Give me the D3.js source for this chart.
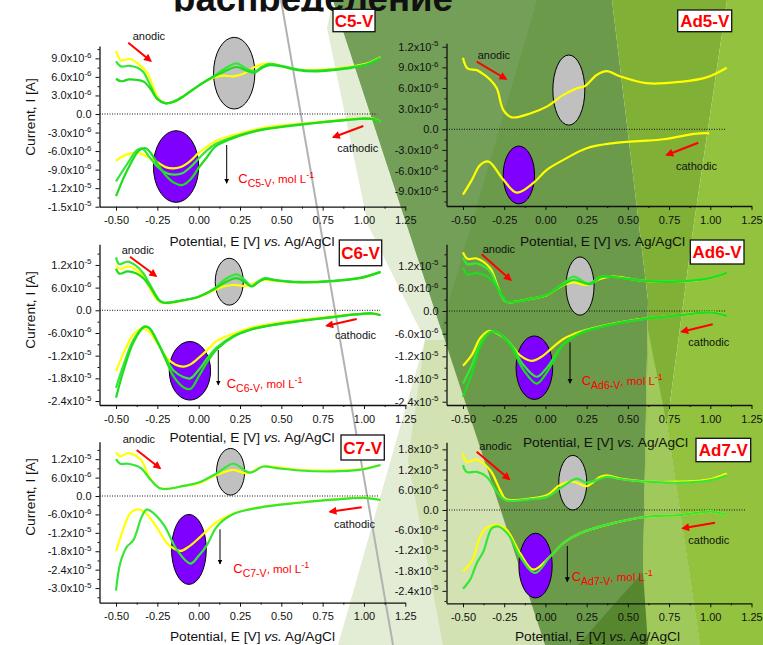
<!DOCTYPE html>
<html>
<head>
<meta charset="utf-8">
<script src="https://cdn.jsdelivr.net/npm/d3@7"></script>
<style>
  body { margin: 0; background: #fff; }
  svg { display: block; }
  text { font-family: "Liberation Sans", Arial, sans-serif; }
</style>
</head>
<body>
<svg id="chart" width="763" height="645"></svg>
<script>
// ---------- Data (potential in V vs. Ag/AgCl, current in µA) ----------
const potentialTicks = [-0.5, -0.25, 0, 0.25, 0.5, 0.75, 1.0, 1.25];

const currentTicksC5 = [9, 6, 3, 0, -3, -6, -9, -12, -15];
const currentTicksAd5 = [12, 9, 6, 3, 0, -3, -6, -9];
const currentTicksC6 = [12, 6, 0, -6, -12, -18, -24];
const currentTicksAd6 = [12, 6, 0, -6, -12, -18, -24];
const currentTicksC7 = [12, 6, 0, -6, -12, -18, -24, -30];
const currentTicksAd7 = [18, 12, 6, 0, -6, -12, -18, -24];

// C5-V
const c5YellowAnodic = [[-0.5,10.2],[-0.47,8.7],[-0.415,8.9],[-0.36,8.0],[-0.31,6.6],[-0.27,4.0],[-0.24,2.4],[-0.2,1.75],[-0.15,2.0],[-0.09,2.9],[0.0,4.6],[0.08,5.8],[0.15,6.2],[0.21,6.1],[0.27,6.5],[0.33,7.5],[0.39,8.1],[0.45,8.1],[0.52,7.6],[0.6,7.2],[0.7,7.1],[0.81,7.3],[0.93,7.7],[1.02,8.2],[1.1,9.2]];
const c5YellowCathodic = [[1.1,-1.25],[1.05,-0.7],[1.0,-0.65],[0.9,-0.85],[0.8,-1.1],[0.6,-1.6],[0.4,-2.2],[0.3,-2.8],[0.2,-3.5],[0.1,-4.4],[0.05,-5.3],[0.0,-6.3],[-0.05,-7.6],[-0.1,-8.5],[-0.15,-8.8],[-0.2,-8.6],[-0.25,-7.8],[-0.31,-6.9],[-0.37,-6.3],[-0.43,-6.5],[-0.47,-7.0],[-0.5,-7.6]];
const c5GreenAAnodic = [[-0.5,8.5],[-0.47,7.7],[-0.42,7.8],[-0.37,7.5],[-0.335,6.8],[-0.29,4.5],[-0.25,2.5],[-0.2,1.75],[-0.15,2.0],[-0.09,2.9],[0.0,4.6],[0.08,5.9],[0.15,7.2],[0.23,8.2],[0.29,7.3],[0.34,6.9],[0.38,7.6],[0.43,8.1],[0.5,7.8],[0.6,7.2],[0.7,7.0],[0.81,7.2],[0.93,7.6],[1.02,8.1],[1.1,9.1]];
const c5GreenACathodic = [[1.1,-1.3],[1.05,-0.8],[1.0,-0.75],[0.9,-0.95],[0.8,-1.2],[0.6,-1.7],[0.4,-2.4],[0.3,-3.0],[0.2,-3.8],[0.1,-4.9],[0.05,-5.9],[0.0,-7.2],[-0.05,-8.6],[-0.1,-9.6],[-0.15,-9.8],[-0.2,-9.5],[-0.25,-8.5],[-0.3,-6.9],[-0.34,-5.6],[-0.375,-5.9],[-0.43,-8.0],[-0.5,-10.9]];
const c5GreenBAnodic = [[-0.5,5.7],[-0.47,5.3],[-0.42,5.6],[-0.37,5.5],[-0.33,5.2],[-0.29,4.0],[-0.25,2.4],[-0.2,1.7],[-0.15,2.0],[-0.09,2.9],[0.0,4.6],[0.08,5.9],[0.15,6.8],[0.23,7.6],[0.29,7.0],[0.34,6.7],[0.38,7.4],[0.43,7.9],[0.5,7.7],[0.6,7.1],[0.7,6.9],[0.81,7.1],[0.93,7.5],[1.02,8.0],[1.1,9.0]];
const c5GreenBCathodic = [[1.1,-1.3],[1.05,-0.8],[1.0,-0.75],[0.9,-0.95],[0.8,-1.2],[0.6,-1.8],[0.4,-2.5],[0.3,-3.1],[0.2,-4.0],[0.1,-5.3],[0.05,-7.0],[0.0,-8.7],[-0.05,-10.6],[-0.1,-11.5],[-0.15,-11.1],[-0.2,-9.9],[-0.25,-8.0],[-0.29,-6.3],[-0.32,-5.55],[-0.36,-5.9],[-0.43,-9.0],[-0.5,-13.3]];

// Ad5-V
const ad5YellowAnodic = [[-0.5,10.4],[-0.473,8.85],[-0.416,8.6],[-0.37,7.9],[-0.335,7.2],[-0.295,5.95],[-0.255,2.8],[-0.204,1.74],[-0.093,2.3],[0.008,3.3],[0.109,5.0],[0.19,5.95],[0.24,6.3],[0.311,7.9],[0.372,8.45],[0.453,7.7],[0.614,6.7],[0.816,6.9],[0.978,7.55],[1.1,8.95]];
const ad5YellowCathodic = [[0.994,-0.58],[0.917,-0.62],[0.715,-1.45],[0.412,-2.0],[0.25,-2.75],[0.109,-4.45],[0.008,-5.9],[-0.073,-7.8],[-0.174,-9.2],[-0.255,-7.35],[-0.345,-4.7],[-0.396,-5.2],[-0.446,-7.35],[-0.5,-9.5]];

// C6-V
const c6YellowAnodic = [[-0.5,11.8],[-0.475,11.0],[-0.425,11.6],[-0.38,10.8],[-0.335,8.9],[-0.3,6.3],[-0.274,4.1],[-0.234,2.2],[-0.19,1.9],[-0.09,2.6],[0.0,3.5],[0.09,5.2],[0.15,6.3],[0.21,6.7],[0.26,6.5],[0.29,6.4],[0.34,7.3],[0.39,8.0],[0.47,7.8],[0.61,7.4],[0.81,7.7],[0.975,8.5],[1.1,10.1]];
const c6YellowCathodic = [[1.1,-1.2],[1.05,-0.8],[0.95,-1.0],[0.81,-1.6],[0.61,-2.5],[0.41,-3.8],[0.31,-4.7],[0.21,-6.2],[0.11,-8.1],[0.05,-10.6],[0.0,-12.6],[-0.05,-14.3],[-0.09,-14.9],[-0.14,-14.4],[-0.19,-12.7],[-0.25,-8.7],[-0.31,-5.3],[-0.35,-4.9],[-0.395,-6.4],[-0.455,-11.4],[-0.5,-16.1]];
const c6GreenAAnodic = [[-0.5,14.0],[-0.48,12.2],[-0.43,12.9],[-0.38,11.8],[-0.335,9.8],[-0.3,7.2],[-0.27,4.9],[-0.24,2.8],[-0.21,2.0],[-0.09,2.7],[0.0,3.6],[0.09,5.6],[0.16,8.2],[0.23,9.5],[0.28,8.0],[0.32,6.4],[0.36,7.6],[0.4,8.5],[0.47,8.0],[0.61,7.5],[0.81,7.8],[0.975,8.6],[1.1,10.2]];
const c6GreenACathodic = [[1.1,-1.3],[1.05,-0.85],[0.95,-1.1],[0.81,-1.8],[0.61,-2.8],[0.41,-4.1],[0.31,-5.1],[0.21,-6.8],[0.11,-9.8],[0.05,-12.8],[0.0,-15.8],[-0.05,-18.0],[-0.09,-17.7],[-0.15,-16.0],[-0.2,-12.5],[-0.25,-8.2],[-0.3,-4.6],[-0.33,-4.3],[-0.395,-7.9],[-0.455,-14.5],[-0.5,-20.5]];
const c6GreenBAnodic = [[-0.5,11.0],[-0.48,9.7],[-0.43,10.3],[-0.38,9.8],[-0.335,8.5],[-0.3,6.6],[-0.27,4.5],[-0.24,2.6],[-0.21,2.0],[-0.09,2.7],[0.0,3.6],[0.09,5.5],[0.16,7.4],[0.23,8.5],[0.28,7.4],[0.32,6.3],[0.36,7.4],[0.4,8.3],[0.47,7.9],[0.61,7.4],[0.81,7.7],[0.975,8.5],[1.1,10.1]];
const c6GreenBCathodic = [[1.1,-1.3],[1.05,-0.85],[0.95,-1.1],[0.81,-1.8],[0.61,-2.9],[0.41,-4.2],[0.31,-5.2],[0.21,-7.0],[0.11,-10.3],[0.05,-13.8],[0.0,-17.5],[-0.05,-20.8],[-0.09,-20.4],[-0.15,-17.6],[-0.2,-13.0],[-0.25,-8.4],[-0.3,-4.7],[-0.33,-4.4],[-0.395,-8.5],[-0.455,-16.0],[-0.5,-23.1]];

// Ad6-V
const ad6YellowAnodic = [[-0.5,15.5],[-0.473,13.8],[-0.416,13.9],[-0.335,11.3],[-0.285,6.0],[-0.245,2.65],[-0.214,2.3],[-0.093,3.2],[0.008,4.2],[0.109,6.9],[0.17,7.6],[0.25,6.9],[0.33,8.5],[0.41,9.1],[0.614,7.9],[0.816,7.8],[0.99,8.65],[1.1,10.2]];
const ad6YellowCathodic = [[1.1,-1.24],[1.0,-0.35],[0.816,-1.06],[0.614,-1.94],[0.412,-3.3],[0.21,-5.5],[0.109,-7.4],[0.04,-9.8],[-0.02,-12.0],[-0.083,-13.2],[-0.15,-11.9],[-0.234,-7.7],[-0.315,-5.5],[-0.345,-5.3],[-0.396,-7.2],[-0.446,-11.6],[-0.5,-14.5]];
const ad6GreenAAnodic = [[-0.5,14.2],[-0.473,12.4],[-0.416,12.6],[-0.335,10.4],[-0.285,5.6],[-0.245,2.6],[-0.214,2.3],[-0.093,3.2],[0.008,4.3],[0.109,7.3],[0.17,9.1],[0.26,7.3],[0.34,9.1],[0.41,9.0],[0.614,8.0],[0.816,7.9],[0.99,8.7],[1.1,10.2]];
const ad6GreenACathodic = [[1.1,-1.3],[1.0,-0.4],[0.816,-1.1],[0.614,-2.0],[0.412,-3.4],[0.21,-5.8],[0.109,-8.8],[0.05,-12.5],[0.0,-15.5],[-0.053,-17.4],[-0.133,-14.3],[-0.214,-8.6],[-0.295,-5.65],[-0.335,-5.5],[-0.396,-8.6],[-0.446,-14.3],[-0.5,-19.2]];
const ad6GreenBAnodic = [[-0.5,11.5],[-0.473,9.7],[-0.416,10.0],[-0.335,8.6],[-0.275,5.1],[-0.235,2.6],[-0.2,2.3],[-0.093,3.2],[0.008,4.3],[0.109,7.0],[0.17,8.2],[0.27,7.1],[0.34,9.0],[0.41,9.0],[0.614,7.9],[0.816,7.8],[0.99,8.6],[1.1,10.1]];
const ad6GreenBCathodic = [[1.1,-1.3],[1.0,-0.4],[0.816,-1.1],[0.614,-2.0],[0.412,-3.5],[0.21,-6.0],[0.109,-9.0],[0.05,-13.2],[0.0,-16.8],[-0.053,-19.2],[-0.133,-15.6],[-0.214,-9.0],[-0.295,-5.7],[-0.335,-5.6],[-0.396,-9.5],[-0.446,-16.5],[-0.5,-22.7]];

// C7-V
const c7YellowAnodic = [[-0.5,14.2],[-0.475,12.9],[-0.425,14.0],[-0.35,11.8],[-0.3,6.3],[-0.25,3.05],[-0.21,2.3],[-0.09,3.3],[0.0,4.1],[0.11,6.9],[0.21,8.5],[0.29,7.4],[0.39,9.6],[0.47,9.4],[0.61,8.5],[0.81,8.3],[0.97,8.7],[1.1,10.1]];
const c7YellowCathodic = [[1.1,-1.3],[1.0,-0.55],[0.81,-1.1],[0.61,-2.1],[0.41,-3.3],[0.21,-5.7],[0.11,-8.4],[0.0,-13.8],[-0.06,-16.5],[-0.11,-17.9],[-0.16,-16.8],[-0.19,-15.5],[-0.27,-8.9],[-0.33,-5.1],[-0.375,-4.4],[-0.415,-5.7],[-0.455,-10.6],[-0.5,-18.0]];
const c7GreenAnodic = [[-0.5,12.0],[-0.475,10.5],[-0.43,10.5],[-0.35,9.1],[-0.29,5.2],[-0.235,2.5],[-0.19,2.3],[-0.09,3.3],[0.0,4.4],[0.11,7.4],[0.21,10.5],[0.31,7.6],[0.39,9.6],[0.47,9.1],[0.61,8.3],[0.81,8.0],[0.97,8.5],[1.1,10.1]];
const c7GreenCathodic = [[1.1,-1.3],[1.0,-0.6],[0.81,-1.2],[0.61,-2.2],[0.41,-3.4],[0.21,-5.9],[0.11,-10.0],[0.05,-16.0],[0.0,-19.5],[-0.05,-22.0],[-0.13,-17.7],[-0.21,-9.5],[-0.285,-5.1],[-0.315,-4.4],[-0.345,-6.8],[-0.395,-14.4],[-0.435,-16.6],[-0.475,-22.0],[-0.5,-30.8]];

// Ad7-V
const ad7YellowAnodic = [[-0.5,16.9],[-0.478,14.3],[-0.416,14.9],[-0.335,11.8],[-0.275,5.9],[-0.245,3.4],[-0.214,2.95],[-0.093,3.4],[0.008,4.4],[0.089,7.4],[0.17,8.4],[0.25,7.1],[0.33,9.8],[0.372,10.3],[0.453,9.3],[0.614,8.4],[0.816,8.4],[0.99,9.0],[1.1,10.8]];
const ad7YellowCathodic = [[1.1,-1.5],[1.0,-0.5],[0.816,-1.5],[0.614,-2.0],[0.412,-3.9],[0.21,-6.9],[0.109,-9.8],[0.028,-13.8],[-0.073,-17.7],[-0.154,-12.8],[-0.235,-5.9],[-0.3,-4.4],[-0.36,-5.4],[-0.396,-7.9],[-0.446,-15.2],[-0.5,-18.2]];
const ad7GreenAnodic = [[-0.5,13.3],[-0.478,11.3],[-0.416,11.3],[-0.355,9.8],[-0.295,5.4],[-0.245,2.95],[-0.2,2.7],[-0.093,3.2],[0.008,3.9],[0.089,6.4],[0.19,9.3],[0.25,8.1],[0.372,9.8],[0.453,9.2],[0.614,8.4],[0.816,8.1],[0.99,8.7],[1.1,10.3]];
const ad7GreenCathodic = [[1.1,-1.5],[1.0,-0.5],[0.816,-1.5],[0.614,-2.0],[0.412,-3.9],[0.21,-6.9],[0.109,-9.8],[0.028,-13.8],[-0.063,-18.7],[-0.154,-13.8],[-0.224,-7.4],[-0.285,-4.9],[-0.325,-5.4],[-0.376,-12.3],[-0.416,-15.7],[-0.456,-20.6],[-0.5,-23.4]];

// ---------- Styles ----------
const YELLOW = "#ffff00", GREEN_A = "#36e636", GREEN_B = "#1fdc1f";
const RED = "#ff0000";

// ---------- Panel layout ----------
const panels = [
  { tag: "C5-V", xr: [99.5, 405.3], yr: [206.7, 46], yd: [-15, 11], ticks: currentTicksC5, zeroEnd: 1.08,
    series: [[c5YellowAnodic, c5YellowCathodic, YELLOW], [c5GreenAAnodic, c5GreenACathodic, GREEN_A], [c5GreenBAnodic, c5GreenBCathodic, GREEN_B]],
    grayOval: [0.215, 6.6, 0.125, 5.8], violetOval: [-0.137, -8.5, 0.137, 5.8],
    box: [333, 9.3, 42, 22.4], anodic: [132.7, 40, 128.3, 42.7, 150.7, 61], cathodic: [337.3, 152, 363.3, 126, 333.3, 137.3],
    down: [226.7, 145, 183.3], conc: [238.3, 183], xTitle: [252, 245.5], yTitle: 117 },
  { tag: "Ad5-V", xr: [446.5, 751.5], yr: [206, 43.3], yd: [-11.15, 12.5], ticks: currentTicksAd5, zeroEnd: 1.09,
    series: [[ad5YellowAnodic, ad5YellowCathodic, YELLOW]],
    grayOval: [0.142, 5.7, 0.097, 5.1], violetOval: [-0.161, -6.64, 0.095, 4.2],
    box: [677.7, 10, 54, 21.7], anodic: [477.7, 59, 476.7, 61.7, 506, 79], cathodic: [676, 169.7, 698.3, 142.7, 666.7, 155],
    down: null, conc: null, xTitle: [602.5, 245.5], yTitle: null },
  { tag: "C6-V", xr: [99.5, 405.3], yr: [405, 244.3], yd: [-25.05, 17.46], ticks: currentTicksC6, zeroEnd: 1.097,
    series: [[c6YellowAnodic, c6YellowCathodic, YELLOW], [c6GreenAAnodic, c6GreenACathodic, GREEN_A], [c6GreenBAnodic, c6GreenBCathodic, GREEN_B]],
    grayOval: [0.185, 7.57, 0.085, 6.2], violetOval: [-0.053, -16.0, 0.125, 7.75],
    box: [339.3, 240, 42.4, 25.7], anodic: [121.7, 254, 130, 256.7, 156, 276], cathodic: [335, 339, 356.7, 319, 326.7, 325.7],
    down: [218.3, 350, 385], conc: [226.7, 388], xTitle: [252, 441.7], yTitle: 310 },
  { tag: "Ad6-V", xr: [446.5, 751.5], yr: [405, 244.3], yd: [-24.87, 17.65], ticks: currentTicksAd6, zeroEnd: 1.09,
    series: [[ad6YellowAnodic, ad6YellowCathodic, YELLOW], [ad6GreenAAnodic, ad6GreenACathodic, GREEN_A], [ad6GreenBAnodic, ad6GreenBCathodic, GREEN_B]],
    grayOval: [0.21, 6.6, 0.085, 7.7], violetOval: [-0.067, -15.0, 0.111, 8.4],
    box: [690.3, 240, 53.7, 24], anodic: [482.7, 253, 481.7, 254.3, 510.7, 280], cathodic: [688.3, 346.3, 712.7, 324.3, 681.7, 331.7],
    down: [570, 342.3, 383.3], conc: [581.7, 385], xTitle: [605.5, 446.7], yTitle: null },
  { tag: "C7-V", xr: [99.5, 405.3], yr: [602.7, 441.7], yd: [-34.76, 17.69], ticks: currentTicksC7, zeroEnd: 1.087,
    series: [[c7YellowAnodic, c7YellowCathodic, YELLOW], [c7GreenAnodic, c7GreenCathodic, GREEN_A]],
    grayOval: [0.193, 7.9, 0.085, 7.6], violetOval: [-0.059, -17.4, 0.105, 11.4],
    box: [341, 435, 43.3, 25], anodic: [122.7, 443.3, 136.7, 450, 160, 468.3], cathodic: [334, 528.3, 361.7, 507.3, 330, 511.7],
    down: [220, 529.3, 564], conc: [233.3, 573], xTitle: [252.5, 641], yTitle: 497 },
  { tag: "Ad7-V", xr: [446.5, 751.5], yr: [603.3, 442.3], yd: [-27.69, 20.09], ticks: currentTicksAd7, zeroEnd: 1.22,
    series: [[ad7YellowAnodic, ad7YellowCathodic, YELLOW], [ad7GreenAnodic, ad7GreenCathodic, GREEN_A]],
    grayOval: [0.166, 8.1, 0.085, 8.1], violetOval: [-0.06, -16.5, 0.101, 9.6],
    box: [696, 438.3, 54.7, 23.4], anodic: [479.3, 450, 476.7, 451.7, 509.3, 479.3], cathodic: [688.3, 544, 715, 522.7, 682.7, 528.3],
    down: [567.3, 546, 581.7], conc: [571.7, 581], xTitle: [597.5, 641], yTitle: null }
];

// ---------- Slide backdrop ----------
const backdrop = [
  { fill: "#e3ecd5", pts: [[333,0],[327,28],[368,225],[425,340],[338,645],[545,645]] },
  { fill: "#d2e2b2", pts: [[425,340],[445,340],[545,645],[443,645],[408,460]] },
  { fill: "#6b9a4b", pts: [[333,0],[612,0],[648,300],[643,575],[622,645],[545,645]] },
  { fill: "#739f58", pts: [[333,0],[537,0],[441,329]] },
  { fill: "#80b035", pts: [[612,0],[727,0],[693,230],[667,425],[700,645],[622,645],[643,575],[648,300]] },
  { fill: "#93c33e", pts: [[727,0],[763,0],[763,645],[700,645],[667,425],[693,230]] },
  { fill: "#a0c95c", pts: [[648,330],[667,425],[700,645],[643,645],[643,575]] },
  { fill: "#56872f", pts: [[578,645],[643,572],[648,645]] }
];

const svg = d3.select("#chart");
const defs = svg.append("defs");
defs.append("marker").attr("id", "headRed").attr("viewBox", "0 0 10 10")
  .attr("refX", 8).attr("refY", 5).attr("markerWidth", 4.5).attr("markerHeight", 4)
  .attr("orient", "auto").append("path").attr("d", "M0,0L10,5L0,10z").attr("fill", RED);
defs.append("marker").attr("id", "headBlack").attr("viewBox", "0 0 10 10")
  .attr("refX", 9).attr("refY", 5).attr("markerWidth", 5).attr("markerHeight", 6)
  .attr("orient", "auto").append("path").attr("d", "M0,0L10,5L0,10z").attr("fill", "#000");
// the slide heading sits behind the figure block, only its lower strip shows
defs.append("clipPath").attr("id", "headingStrip")
  .append("rect").attr("x", 0).attr("y", 0).attr("width", 763).attr("height", 11.5);

svg.append("g").selectAll("polygon").data(backdrop).join("polygon")
  .attr("points", d => d.pts.map(p => p.join(",")).join(" "))
  .attr("fill", d => d.fill);

svg.append("line").attr("x1", 281).attr("y1", 0).attr("x2", 393).attr("y2", 645)
  .attr("stroke", "#b2b2b2").attr("stroke-width", 2);

svg.append("text").attr("x", 173).attr("y", 11)
  .attr("clip-path", "url(#headingStrip)")
  .attr("textLength", 280).attr("lengthAdjust", "spacingAndGlyphs")
  .style("font-size", "37px").style("font-weight", "bold").attr("fill", "#111")
  .text("распределение");

// ---------- Helpers ----------
function sciLabel(v) {
  if (v === 0) return ["0.0", null];
  const a = v * 1e-6;
  const e = Math.floor(Math.log10(Math.abs(a)) + 1e-9);
  const m = a / Math.pow(10, e);
  return [m.toFixed(1) + "x10", String(e)];
}

function drawPanel(p) {
  const x = d3.scaleLinear().domain([-0.6, 1.25]).range(p.xr);
  const y = d3.scaleLinear().domain(p.yd).range(p.yr);
  const g = svg.append("g");

  // zero-current reference
  g.append("line").attr("x1", p.xr[0]).attr("x2", x(p.zeroEnd))
    .attr("y1", y(0)).attr("y2", y(0))
    .attr("stroke", "#111").attr("stroke-width", 1).attr("stroke-dasharray", "1,1.5");

  // peak regions
  const oval = (o, fill) => g.append("ellipse")
    .attr("cx", x(o[0])).attr("cy", y(o[1]))
    .attr("rx", x(o[0] + o[2]) - x(o[0])).attr("ry", y(o[1] - o[3]) - y(o[1]))
    .attr("fill", fill).attr("stroke", "#000").attr("stroke-width", 1);
  oval(p.grayOval, "#c0c0c0");
  oval(p.violetOval, "#7f00ff");

  // voltammograms
  const line = d3.line().x(d => x(d[0])).y(d => y(d[1])).curve(d3.curveCatmullRom.alpha(0.5));
  p.series.forEach(([an, cat, col]) => {
    [an, cat].forEach(arr => g.append("path").attr("d", line(arr))
      .attr("fill", "none").attr("stroke", col).attr("stroke-width", 2.2)
      .attr("stroke-linejoin", "round"));
  });

  // x axis
  const xMinor = d3.range(-0.375, 1.2, 0.25);
  g.append("g").attr("transform", `translate(0,${p.yr[0]})`)
    .call(d3.axisBottom(x).tickValues(xMinor).tickSize(2).tickSizeOuter(0).tickFormat(""))
    .call(a => a.select(".domain").remove())
    .selectAll("line").attr("stroke", "#111");
  g.append("g").attr("transform", `translate(0,${p.yr[0]})`)
    .call(d3.axisBottom(x).tickValues(potentialTicks).tickSize(4).tickSizeOuter(0).tickPadding(6)
      .tickFormat(d => d.toFixed(2)))
    .call(a => {
      a.attr("font-family", null).attr("font-size", null);
      a.select(".domain").attr("stroke", "#111").attr("stroke-width", 1.3);
      a.selectAll("line").attr("stroke", "#111");
      a.selectAll("text").style("font-size", "11px").attr("fill", "#111");
    });

  // y axis
  const step = p.ticks[0] - p.ticks[1];
  const yMinor = [];
  for (let v = p.ticks[p.ticks.length - 1] - step / 2; v <= p.yd[1]; v += step) {
    if (v >= p.yd[0]) yMinor.push(v);
  }
  g.append("g").attr("transform", `translate(${p.xr[0]},0)`)
    .call(d3.axisLeft(y).tickValues(yMinor).tickSize(2).tickSizeOuter(0).tickFormat(""))
    .call(a => a.select(".domain").remove())
    .selectAll("line").attr("stroke", "#111");
  g.append("g").attr("transform", `translate(${p.xr[0]},0)`)
    .call(d3.axisLeft(y).tickValues(p.ticks).tickSize(4).tickSizeOuter(0).tickFormat(""))
    .call(a => {
      a.select(".domain").attr("stroke", "#111").attr("stroke-width", 1.3);
      a.selectAll("line").attr("stroke", "#111");
    });
  p.ticks.forEach(v => {
    const [main, exp] = sciLabel(v);
    const t = g.append("text").attr("x", p.xr[0] - 8).attr("y", y(v) + 4)
      .attr("text-anchor", "end").style("font-size", "11px").attr("fill", "#111");
    t.append("tspan").text(main);
    if (exp) t.append("tspan").attr("dy", -4.5).style("font-size", "8px").text(exp);
  });

  // axis titles
  const xt = g.append("text").attr("x", p.xTitle[0]).attr("y", p.xTitle[1])
    .attr("text-anchor", "middle").style("font-size", "13.7px").attr("fill", "#111");
  xt.append("tspan").text("Potential, E [V] ");
  xt.append("tspan").style("font-style", "italic").text("vs.");
  xt.append("tspan").text(" Ag/AgCl");
  if (p.yTitle !== null) {
    g.append("text").attr("transform", `translate(35,${p.yTitle}) rotate(-90)`)
      .attr("text-anchor", "middle").style("font-size", "13.7px").attr("fill", "#111")
      .text("Current, I [A]");
  }

  // sweep direction notes
  const arrow = (a, id, w) => g.append("line").attr("x1", a[0]).attr("y1", a[1]).attr("x2", a[2]).attr("y2", a[3])
    .attr("stroke", id === "headRed" ? RED : "#000").attr("stroke-width", w)
    .attr("marker-end", `url(#${id})`);
  g.append("text").attr("x", p.anodic[0]).attr("y", p.anodic[1]).style("font-size", "11px").attr("fill", "#111").text("anodic");
  arrow(p.anodic.slice(2), "headRed", 2);
  g.append("text").attr("x", p.cathodic[0]).attr("y", p.cathodic[1]).style("font-size", "11px").attr("fill", "#111").text("cathodic");
  arrow(p.cathodic.slice(2), "headRed", 2);

  if (p.down) {
    arrow([p.down[0], p.down[1], p.down[0], p.down[2]], "headBlack", 1);
  }
  if (p.conc) {
    const c = g.append("text").attr("x", p.conc[0]).attr("y", p.conc[1]).attr("fill", RED).style("font-size", "13px");
    c.append("tspan").text("C");
    c.append("tspan").attr("dy", 4).style("font-size", "10.5px").text(p.tag);
    c.append("tspan").attr("dy", -4).style("font-size", "11.5px").text(", mol L");
    c.append("tspan").attr("dy", -5).style("font-size", "9px").text("-1");
  }
}

panels.forEach(drawPanel);

// sample tags on top
panels.forEach(p => {
  const [bx, by, bw, bh] = p.box;
  svg.append("rect").attr("x", bx).attr("y", by).attr("width", bw).attr("height", bh)
    .attr("fill", "#fff").attr("stroke", "#111").attr("stroke-width", 1.3);
  svg.append("text").attr("x", bx + bw / 2).attr("y", by + bh / 2 + 6)
    .attr("text-anchor", "middle").style("font-size", "17px").style("font-weight", "bold")
    .attr("fill", RED).text(p.tag);
});
</script>
</body>
</html>
